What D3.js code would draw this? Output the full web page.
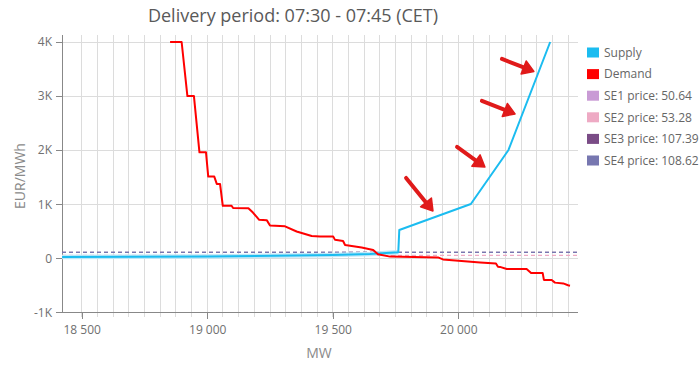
<!DOCTYPE html>
<html><head><meta charset="utf-8">
<script src="https://cdn.jsdelivr.net/npm/d3@7"></script>
<style>html,body{margin:0;padding:0;background:#fff;}svg{display:block;font-family:"Open Sans","Noto Sans",sans-serif;}</style>
</head><body><svg id="c" width="700" height="369"></svg>
<script>
// ---- data ----
const title = "Delivery period: 07:30 - 07:45 (CET)";
const demandMW =    [18852,18898,18921,18947,18969,18995,19004,19028,19038,19051,19062,19097,19103,19164,19182,19207,19237,19250,19310,19356,19416,19449,19502,19509,19541,19549,19615,19661,19680,19728,19919,19939,20087,20150,20158,20166,20193,20272,20290,20336,20341,20372,20385,20418,20437,20445];
const demandPrice = [4000,4000,3000,3000,1960,1960,1510,1510,1375,1375,970,970,930,925,845,710,705,605,590,495,410,400,400,340,320,246,200,154,74,30,15,-22,-78,-96,-156,-160,-198,-198,-272,-272,-401,-401,-451,-466,-500,-507];
const supplyMW =    [18422,19000,19500,19648,19761,19765,20050,20200,20366];
const supplyPrice = [25,33,60,80,110,523,1004,2003,4000];
const areaNames  = ["SE1","SE2","SE3","SE4"];
const areaPrices = [50.64,53.28,107.39,108.62];
const yTicks = [-1000,0,1000,2000,3000,4000];
const xTicks = [18500,19000,19500,20000];
// hand-drawn annotation arrows: [tailMW, tailPrice, headMW, headPrice]
const arrows = [
  [20174,3687,20301,3455],
  [20094,2910,20226,2669],
  [19995,2059,20106,1689],
  [19792,1485,19899,875]
];
const colors = {Supply:"#1bbcf0", Demand:"#ff0000", SE1:"#c99bd5", SE2:"#eeaac4", SE3:"#7a4c86", SE4:"#7777b0"};

// ---- layout ----
const svg = d3.select("#c");
const L = 62, R = 577.7, T = 35, B = 312.3;
const x = d3.scaleLinear().domain([18421.5, 20475.6]).range([L, R]);
const y = d3.scaleLinear().domain([-1000, 4000]).range([B, 42]);
const loc = d3.formatLocale({decimal:".", thousands:" ", grouping:[3], currency:["",""]});
const fx = loc.format(",");
const fy = v => v === 0 ? "0" : (v/1000) + "K";

// vertical grid (minor every 62.5 MW)
const vgrid = d3.range(18500, 20475, 62.5);
svg.append("g").selectAll("line").data(vgrid).join("line")
  .attr("x1", d => x(d)).attr("x2", d => x(d))
  .attr("y1", T).attr("y2", B + 5)
  .attr("stroke", "#dcdcdc").attr("stroke-width", 1).attr("shape-rendering","crispEdges");
// horizontal grid
svg.append("g").selectAll("line").data(yTicks.filter(d => d > -1000)).join("line")
  .attr("x1", L).attr("x2", R).attr("y1", d => y(d)).attr("y2", d => y(d))
  .attr("stroke", "#dcdcdc").attr("stroke-width", 1).attr("shape-rendering","crispEdges");

// axes
const yAxis = d3.axisLeft(y).tickValues(yTicks).tickFormat(fy).tickSize(6).tickPadding(4);
const gy = svg.append("g").attr("transform", `translate(${L},0)`).call(yAxis);
gy.select(".domain").remove();
gy.append("line").attr("x1",0).attr("x2",0).attr("y1",T).attr("y2",B).attr("stroke","#888").attr("shape-rendering","crispEdges");
gy.selectAll(".tick line").attr("stroke","#888").attr("shape-rendering","crispEdges");
gy.selectAll("text").attr("fill","#707070").style("font-size","12px").style("font-family","'Open Sans',sans-serif");

const xAxis = d3.axisBottom(x).tickValues(xTicks).tickFormat(fx).tickSize(7).tickPadding(6);
const gx = svg.append("g").attr("transform", `translate(0,${B})`).call(xAxis);
gx.select(".domain").remove();
gx.append("line").attr("x1",L).attr("x2",R).attr("y1",0).attr("y2",0).attr("stroke","#888").attr("shape-rendering","crispEdges");
gx.selectAll(".tick line").attr("stroke","#888").attr("shape-rendering","crispEdges");
gx.selectAll("text").attr("fill","#707070").style("font-size","12px").style("font-family","'Open Sans',sans-serif");

// area price dashed lines
svg.append("g").selectAll("line").data(areaPrices).join("line")
  .attr("x1", L).attr("x2", R).attr("y1", d => y(d)).attr("y2", d => y(d))
  .attr("stroke", (d,i) => colors[areaNames[i]]).attr("stroke-width", 1.2)
  .attr("stroke-dasharray", "4,3");

// lines
const line = d3.line().x(d => x(d[0])).y(d => y(d[1]));
const supply = supplyMW.map((v,i) => [v, supplyPrice[i]]);
const demand = demandMW.map((v,i) => [v, demandPrice[i]]);
svg.append("path").datum(supply.slice(0,5)).attr("d", line)
  .attr("fill","none").attr("stroke","#bfe8f8").attr("stroke-width",4.5);
svg.append("path").datum(supply).attr("d", line)
  .attr("fill","none").attr("stroke",colors.Supply).attr("stroke-width",2).attr("stroke-linejoin","round");
svg.append("path").datum(demand).attr("d", line)
  .attr("fill","none").attr("stroke",colors.Demand).attr("stroke-width",2).attr("stroke-linejoin","round");

// annotation arrows
const ga = svg.append("g");
arrows.forEach(a => {
  const x1 = x(a[0]), y1 = y(a[1]), x2 = x(a[2]), y2 = y(a[3]);
  const ang = Math.atan2(y2 - y1, x2 - x1);
  const hl = 11, hw = 7;
  const bx = x2 - hl*Math.cos(ang), by = y2 - hl*Math.sin(ang);
  ga.append("line").attr("x1",x1).attr("y1",y1).attr("x2",bx).attr("y2",by)
    .attr("stroke","#e01a1a").attr("stroke-width",4).attr("stroke-linecap","round");
  const px = -Math.sin(ang), py = Math.cos(ang);
  ga.append("path").attr("d", `M${x2},${y2}L${bx+px*hw},${by+py*hw}L${bx-px*hw},${by-py*hw}Z`)
    .attr("fill","#e01a1a").attr("stroke","#e01a1a").attr("stroke-width",1.5).attr("stroke-linejoin","round");
});

// title & axis labels
svg.append("text").attr("x", 293).attr("y", 22).attr("text-anchor","middle")
  .attr("fill","#595959").style("font-size","18px").text(title);
svg.append("text").attr("transform","translate(25,176) rotate(-90)").attr("text-anchor","middle")
  .attr("fill","#8a8a8a").style("font-size","14px").text("EUR/MWh");
svg.append("text").attr("x", 319).attr("y", 358).attr("text-anchor","middle")
  .attr("fill","#8a8a8a").style("font-size","14px").text("MW");

// legend
const legendItems = [{n:"Supply",t:"Supply"},{n:"Demand",t:"Demand"}]
  .concat(areaNames.map((a,i) => ({n:a, t:`${a} price: ${areaPrices[i]}`})));
const lg = svg.append("g").selectAll("g").data(legendItems).join("g")
  .attr("transform", (d,i) => `translate(587,${52.5 + i*21.6})`);
lg.append("rect").attr("x",0).attr("y",-5).attr("width",12).attr("height",10).attr("fill", d => colors[d.n]);
lg.append("text").attr("x",17).attr("y",0).attr("dy","0.35em").attr("fill","#666")
  .style("font-size","12px").text(d => d.t);
</script></body></html>
